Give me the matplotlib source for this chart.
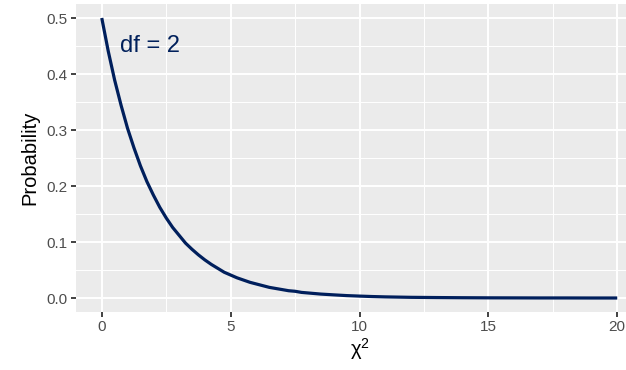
import matplotlib
matplotlib.use("Agg")
import matplotlib.pyplot as plt
from matplotlib.ticker import MultipleLocator

plt.rcParams['font.family'] = ['Liberation Sans', 'DejaVu Sans']
plt.rcParams['mathtext.default'] = 'regular'

chi2 = [0, 0.25, 0.5, 0.75, 1, 1.25, 1.5, 1.75, 2, 2.25, 2.5, 2.75, 3, 3.25, 3.5,
        3.75, 4, 4.25, 4.5, 4.75, 5, 5.25, 5.5, 5.75, 6, 6.25, 6.5, 6.75, 7, 7.25,
        7.5, 7.75, 8, 8.5, 9, 9.5, 10, 10.5, 11, 11.5, 12, 13, 14, 15, 16, 17, 18,
        19, 20]
prob = [0.500, 0.441, 0.389, 0.344, 0.303, 0.268, 0.236, 0.208, 0.184, 0.162,
        0.143, 0.126, 0.112, 0.098, 0.087, 0.077, 0.068, 0.060, 0.053, 0.046,
        0.041, 0.036, 0.032, 0.028, 0.025, 0.022, 0.019, 0.017, 0.015, 0.013,
        0.012, 0.010, 0.009, 0.007, 0.0056, 0.0043, 0.0034, 0.0026, 0.0020,
        0.0016, 0.0012, 0.0008, 0.0005, 0.0003, 0.0002, 0.0001, 0.0001, 0.0000,
        0.0000]
x_ticks = [0, 5, 10, 15, 20]
y_ticks = [0.0, 0.1, 0.2, 0.3, 0.4, 0.5]
label = "df = 2"

W, H = 626, 370
fig = plt.figure(figsize=(W / 100, H / 100), dpi=100)
left, right, top, bottom = 76, 643, 4, 312
ax = fig.add_axes([left / W, 1 - bottom / H, (right - left) / W, (bottom - top) / H])
ax.set_facecolor('#EBEBEB')
for s in ax.spines.values():
    s.set_visible(False)

ax.set_xlim(-1, 21)
ax.set_ylim(-0.025, 0.525)
ax.set_xticks(x_ticks)
ax.set_yticks(y_ticks)
ax.set_yticklabels([f"{v:.1f}" for v in y_ticks])
ax.xaxis.set_minor_locator(MultipleLocator(2.5))
ax.yaxis.set_minor_locator(MultipleLocator(0.05))
ax.grid(which='major', color='white', lw=1.4)
ax.grid(which='minor', color='white', lw=0.7)
ax.set_axisbelow(True)
ax.tick_params(which='major', length=3.6, width=1.3, color='#333333', labelcolor='#4D4D4D',
               labelsize=11, pad=2.5)
ax.tick_params(which='minor', length=0)

ax.plot(chi2, prob, color='#001F5C', lw=2.3, solid_capstyle='butt')
ax.text(0.72, 0.45, label, color='#00205B', fontsize=17, va='center', ha='left')

ax.set_xlabel('χ$^2$', fontsize=14.5, labelpad=1)
ax.set_ylabel('Probability', fontsize=14.5, labelpad=5)

fig.savefig('out.png', dpi=100)
